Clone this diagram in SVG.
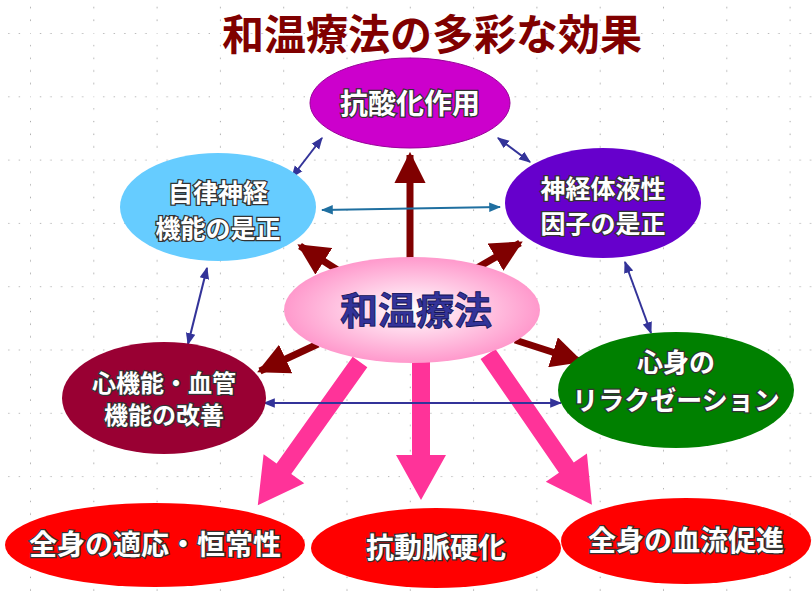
<svg xmlns="http://www.w3.org/2000/svg" width="812" height="591" viewBox="0 0 812 591">
<defs>
<pattern id="grid" x="30" y="33" width="63.3" height="63.3" patternUnits="userSpaceOnUse">
<g fill="#888">
<circle cx="0" cy="0" r="0.8"/><circle cx="10.5" cy="0" r="0.8"/><circle cx="21" cy="0" r="0.8"/><circle cx="31.6" cy="0" r="0.8"/><circle cx="42.2" cy="0" r="0.8"/><circle cx="52.7" cy="0" r="0.8"/>
<circle cx="0" cy="12.6" r="0.8"/><circle cx="0" cy="25.3" r="0.8"/><circle cx="0" cy="38" r="0.8"/><circle cx="0" cy="50.6" r="0.8"/>
</g>
</pattern>
<radialGradient id="pink" cx="0.5" cy="0.5" r="0.5">
<stop offset="0" stop-color="#FFFFFF"/><stop offset="1" stop-color="#FF99CC"/>
</radialGradient>
<marker id="dr" viewBox="0 0 10 10" refX="9" refY="5" markerWidth="4.5" markerHeight="4.5" orient="auto"><path d="M0,0L10,5L0,10z" fill="#800000"/></marker>
<marker id="bl" viewBox="0 0 10 10" refX="9" refY="5" markerWidth="6" markerHeight="6" orient="auto-start-reverse"><path d="M0,1L10,5L0,9z" fill="#333399"/></marker>
<marker id="tl" viewBox="0 0 10 10" refX="9" refY="5" markerWidth="6" markerHeight="6" orient="auto-start-reverse"><path d="M0,1L10,5L0,9z" fill="#1F6FA0"/></marker>
</defs>
<style>
.t{font-family:"Noto Sans CJK JP","Noto Sans CJK SC",sans-serif;font-weight:bold;text-anchor:middle;fill:#fff;paint-order:stroke;stroke:#333;stroke-width:2.5px}
.b{stroke:#333399;stroke-width:2;fill:none;marker-start:url(#bl);marker-end:url(#bl)}
.r{stroke:#800000;stroke-width:7;marker-end:url(#dr)}
.p{fill:#FF3399}
</style>
<rect width="812" height="591" fill="#fff"/>
<rect width="812" height="591" fill="url(#grid)"/>
<text x="432" y="50" font-family="Noto Sans CJK JP,sans-serif" font-weight="bold" font-size="42" fill="#800000" text-anchor="middle">和温療法の多彩な効果</text>
<g id="connectors">
<line class="r" x1="410" y1="258" x2="410" y2="155"/>
<line class="r" x1="350" y1="278" x2="300" y2="246"/>
<line class="r" x1="470" y1="272" x2="520" y2="243"/>
<line class="r" x1="318" y1="344" x2="260" y2="371"/>
<line class="r" x1="515" y1="340" x2="580" y2="361"/>
<polygon class="p" transform="translate(360,362) rotate(125.5)" points="0,-9 131,-9 131,-25 176,0 131,25 131,9 0,9"/>
<polygon class="p" transform="translate(421,362) rotate(90)" points="0,-9 93,-9 93,-25 138,0 93,25 93,9 0,9"/>
<polygon class="p" transform="translate(488,354) rotate(55.4)" points="0,-9 138,-9 138,-25 183,0 138,25 138,9 0,9"/>
<line class="b" x1="292" y1="177" x2="322" y2="138"/>
<line class="b" x1="498" y1="138" x2="530" y2="162"/>
<line x1="322" y1="210" x2="500" y2="207" stroke="#1F6FA0" stroke-width="2" marker-start="url(#tl)" marker-end="url(#tl)"/>
<line class="b" x1="207" y1="268" x2="188" y2="344"/>
<line class="b" x1="625" y1="262" x2="651" y2="333"/>
<line class="b" x1="264" y1="403" x2="561" y2="403"/>
</g>
<g id="n1"><ellipse cx="410" cy="103" rx="100" ry="45" fill="#CC00CC" stroke="#990099"/><text class="t" x="410" y="114" font-size="28">抗酸化作用</text></g>
<g id="n2"><ellipse cx="218" cy="207" rx="98" ry="54" fill="#66CCFF"/><text class="t" x="218" y="202" font-size="25">自律神経</text><text class="t" x="218" y="238" font-size="25">機能の是正</text></g>
<g id="n3"><ellipse cx="603" cy="203" rx="98" ry="55" fill="#6600CC"/><text class="t" x="603" y="198" font-size="25">神経体液性</text><text class="t" x="603" y="233" font-size="25">因子の是正</text></g>
<g id="n4"><ellipse cx="412" cy="310" rx="128" ry="53" fill="url(#pink)"/><text x="416" y="324" font-family="Noto Sans CJK JP,sans-serif" font-weight="bold" font-size="38" fill="#333399" text-anchor="middle" stroke="#111155" stroke-width="0.8">和温療法</text></g>
<g id="n5"><ellipse cx="164" cy="398" rx="102" ry="56" fill="#990033"/><text class="t" x="164" y="392" font-size="24">心機能・血管</text><text class="t" x="164" y="424" font-size="24">機能の改善</text></g>
<g id="n6"><ellipse cx="676" cy="390" rx="118" ry="58" fill="#008000"/><text class="t" x="676" y="372" font-size="26">心身の</text><text class="t" x="676" y="410" font-size="26">リラクゼーション</text></g>
<g id="n7"><ellipse cx="155" cy="545" rx="150" ry="42" fill="#FF0000"/><text class="t" x="155" y="555" font-size="28">全身の適応・恒常性</text></g>
<g id="n8"><ellipse cx="436" cy="548" rx="125" ry="40" fill="#FF0000"/><text class="t" x="436" y="558" font-size="28">抗動脈硬化</text></g>
<g id="n9"><ellipse cx="686" cy="541" rx="125" ry="43" fill="#FF0000"/><text class="t" x="686" y="551" font-size="28">全身の血流促進</text></g>
</svg>
